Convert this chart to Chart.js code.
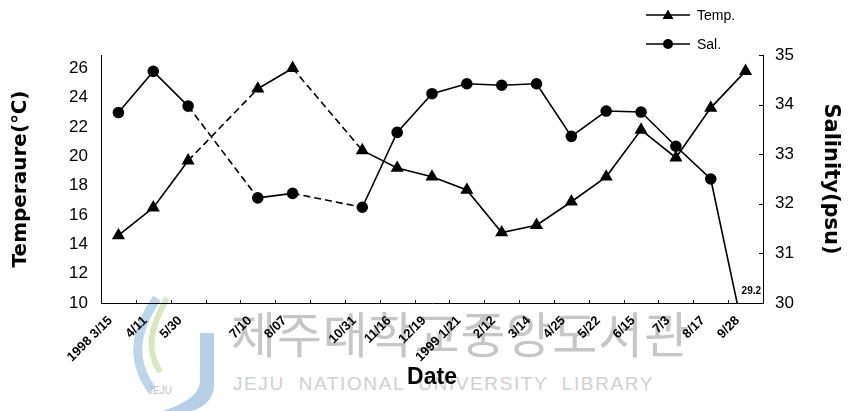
<!DOCTYPE html>
<html>
<head>
<meta charset="utf-8">
<script src="https://cdn.jsdelivr.net/npm/chart.js@4.4.1/dist/chart.umd.min.js"></script>
<style>
  body { margin: 0; background: #fff; }
  #wrap { position: relative; width: 850px; height: 411px; overflow: hidden; }
  #chart { position: absolute; left: 0; top: 0; }
  .wm-ko { position: absolute; left: 231px; top: 307px; font: 49px "Noto Sans CJK KR"; color: #c6c6c6; line-height: 1; letter-spacing: 0.8px; white-space: nowrap; }
  .wm-en { position: absolute; left: 233px; top: 373px; font: 19px "Liberation Sans", Arial; color: #d0d0d0; letter-spacing: 1.6px; word-spacing: 7px; white-space: nowrap; }
  #legend { position: absolute; left: 646px; top: 0px; font: 14px "Liberation Sans", Arial; color: #000; }
  #legend div { display: flex; align-items: center; height: 29px; }
  #legend svg { margin-right: 7px; }
</style>
</head>
<body>
<div id="wrap">
  <svg style="position:absolute;left:110px;top:290px" width="120" height="121">
    <path d="M47 8 C 25 40, 20 70, 42 100" stroke="#bcd5ea" stroke-width="9" fill="none"/>
    <path d="M57 8 C 40 38, 36 60, 50 82" stroke="#d8e8bd" stroke-width="6" fill="none"/>
    <path d="M90 43 L104 43 L104 95 C104 115, 85 125, 50 125 L40 125 C75 115, 90 105, 90 90 Z" fill="#b7cee7"/>
    <text x="38" y="104" font-family="Liberation Sans" font-size="10" fill="#c4c4c4">JEJU</text>
  </svg>
  <div class="wm-ko">제주대학교중앙도서관</div>
  <div class="wm-en">JEJU NATIONAL UNIVERSITY LIBRARY</div>
  <canvas id="chart" width="850" height="411"></canvas>
  <div id="legend">
    <div><svg width="44" height="12"><line x1="0" y1="6" x2="44" y2="6" stroke="#000" stroke-width="1.5"/><path d="M22 0.5 L27.5 10 L16.5 10 Z" fill="#000"/></svg>Temp.</div>
    <div><svg width="44" height="12"><line x1="0" y1="6" x2="44" y2="6" stroke="#000" stroke-width="1.5"/><circle cx="22" cy="6" r="5" fill="#000"/></svg>Sal.</div>
  </div>
</div>
<script>
// sampling dates; blank entries are months with no survey (joined by dashed lines)
const DATES = ["1998 3/15", "4/11", "5/30", "", "7/10", "8/07", "", "10/31", "11/16", "12/19",
  "1999 1/21", "2/12", "3/14", "4/25", "5/22", "6/15", "7/3", "8/17", "9/28"]

const TEMP = [14.6, 16.5, 19.7, null, 24.6, 26.0, null, 20.4, 19.2, 18.6,
  17.7, 14.8, 15.3, 16.9, 18.6, 21.8, 19.9, 23.3, 25.8]

const SAL = [33.84, 34.67, 33.97, null, 32.12, 32.21, null, 31.93, 33.44, 34.22,
  34.42, 34.39, 34.42, 33.36, 33.87, 33.85, 33.16, 32.5, 29.2]

const TEMP_TICKS = [10, 12, 14, 16, 18, 20, 22, 24, 26]
const SAL_TICKS = [30, 31, 32, 33, 34, 35]

const FONT = "'Liberation Sans', Arial, sans-serif"

// dashed where the line jumps over a missing month (p0DataIndex is the skipped point)
const gapDash = (ctx) => {
  const data = ctx.chart.data.datasets[ctx.datasetIndex].data
  return data[ctx.p0DataIndex] == null ? [7, 4] : undefined
}

const extras = {
  id: "extras",
  afterDatasetsDraw(chart) {
    const { ctx, chartArea, scales } = chart
    const x = scales.x
    const y1 = scales.y1
    ctx.save()
    ctx.strokeStyle = "#000"
    ctx.lineWidth = 1
    ctx.beginPath()
    for (let i = 1; i < DATES.length; i++) {
      const px = Math.round((x.getPixelForValue(i) + x.getPixelForValue(i - 1)) / 2) + 0.5
      ctx.moveTo(px, chartArea.bottom)
      ctx.lineTo(px, chartArea.bottom - 3)
    }
    SAL_TICKS.forEach((v) => {
      const py = Math.round(y1.getPixelForValue(v)) + 0.5
      ctx.moveTo(chartArea.right, py)
      ctx.lineTo(chartArea.right - 4, py)
    })
    ctx.stroke()

    // off-scale salinity value, written at the last date
    const last = SAL.length - 1
    ctx.fillStyle = "#000"
    ctx.font = "bold 10px " + FONT
    ctx.textAlign = "left"
    ctx.textBaseline = "middle"
    ctx.fillText(String(SAL[last]), x.getPixelForValue(last) - 4, chartArea.bottom - 12)
    ctx.restore()
  },
}

new Chart(document.getElementById("chart"), {
  type: "line",
  data: {
    labels: DATES,
    datasets: [
      {
        label: "Temp.",
        data: TEMP,
        yAxisID: "y",
        borderColor: "#000",
        backgroundColor: "#000",
        borderWidth: 1.6,
        pointStyle: "triangle",
        pointRadius: 6,
        spanGaps: true,
        segment: { borderDash: gapDash },
      },
      {
        label: "Sal.",
        data: SAL,
        yAxisID: "y1",
        borderColor: "#000",
        backgroundColor: "#000",
        borderWidth: 1.6,
        pointStyle: "circle",
        pointRadius: 5,
        spanGaps: true,
        segment: { borderDash: gapDash },
      },
    ],
  },
  options: {
    responsive: false,
    animation: false,
    layout: { padding: { top: 55, left: 0, right: 0, bottom: 0 } },
    plugins: { legend: { display: false }, tooltip: { enabled: false } },
    scales: {
      x: {
        offset: true,
        grid: { display: false, drawTicks: false, offset: true },
        border: { color: "#000", width: 1 },
        afterFit: (s) => { s.height = 108 },
        ticks: {
          autoSkip: false,
          maxRotation: 45,
          minRotation: 45,
          padding: 10,
          labelOffset: -8,
          color: "#000",
          font: { family: FONT, size: 13, weight: "bold" },
        },
        title: {
          display: true,
          text: "Date",
          color: "#000",
          font: { family: FONT, size: 23, weight: "bold" },
          padding: { top: 0, bottom: 20 },
        },
      },
      y: {
        position: "left",
        min: 10,
        max: 26.9,
        afterBuildTicks: (s) => { s.ticks = TEMP_TICKS.map((v) => ({ value: v })) },
        grid: { display: false, drawTicks: false },
        border: { color: "#000", width: 1 },
        afterFit: (s) => { s.width = 101 },
        ticks: {
          padding: 13,
          color: "#000",
          font: { family: FONT, size: 17 },
        },
        title: {
          display: true,
          text: "Temperaure(℃)",
          color: "#000",
          font: { family: "'DejaVu Sans', sans-serif", size: 20, weight: "bold" },
          padding: { top: 9, bottom: 0 },
        },
      },
      y1: {
        position: "right",
        min: 30,
        max: 35,
        afterBuildTicks: (s) => { s.ticks = SAL_TICKS.map((v) => ({ value: v })) },
        grid: { display: false, drawTicks: false },
        border: { color: "#000", width: 1 },
        afterFit: (s) => { s.width = 87 },
        ticks: {
          padding: 12,
          color: "#000",
          font: { family: FONT, size: 17 },
        },
        title: {
          display: true,
          text: "Salinity(psu)",
          color: "#000",
          font: { family: "'DejaVu Sans', sans-serif", size: 21, weight: "bold" },
          padding: { top: 7, bottom: 0 },
        },
      },
    },
  },
  plugins: [extras],
})
</script>
</body>
</html>
